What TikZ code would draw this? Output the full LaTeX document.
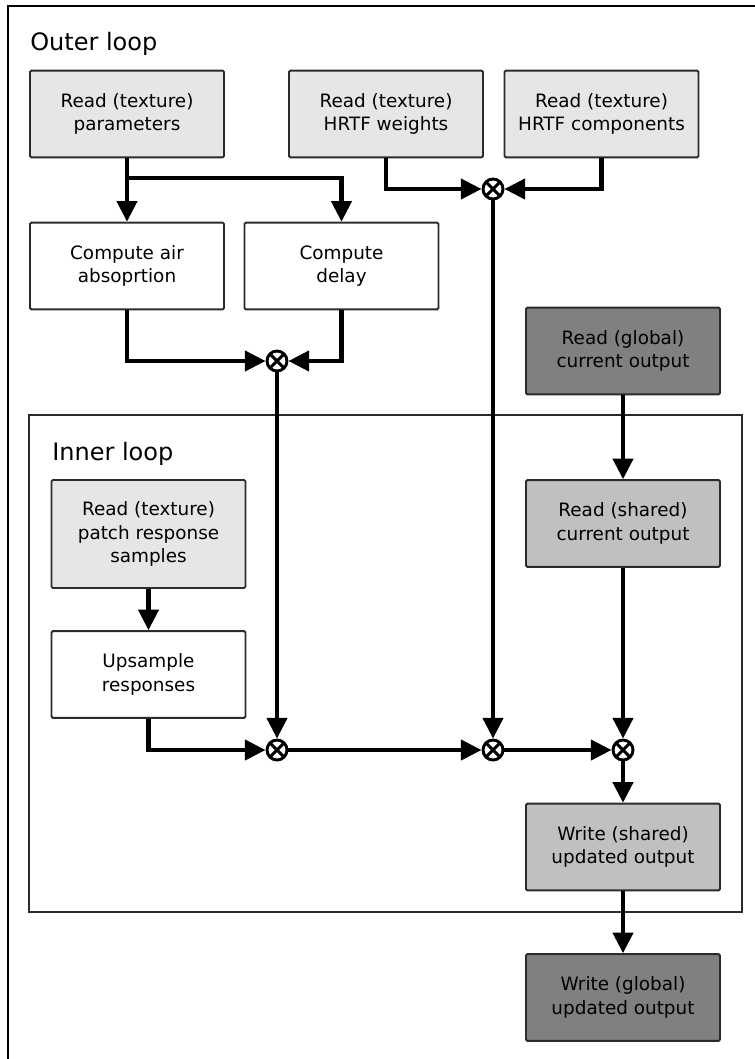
\documentclass[tikz,border=0pt]{standalone}
\usepackage{xcolor}
\usepackage{fontspec}
\setmainfont{DejaVu Sans}
\usepackage{tikz}
\usetikzlibrary{arrows.meta}

\definecolor{texgray}{HTML}{E6E6E6}
\definecolor{shrgray}{HTML}{C0C0C0}
\definecolor{glbgray}{HTML}{808080}
\definecolor{boxline}{HTML}{2B2B2B}

\begin{document}
\begin{tikzpicture}[x=0.75pt,y=-0.75pt,
  box/.style={draw=boxline,line width=1.4pt,rounded corners=1pt,minimum width=145.5pt,minimum height=65pt,align=center,inner sep=2pt,font=\fontsize{13.8}{17.5}\selectfont},
  texbox/.style={box,fill=texgray},
  shrbox/.style={box,fill=shrgray},
  glbbox/.style={box,fill=glbgray},
  mult/.style={circle,draw,line width=2.2pt,minimum size=15pt,inner sep=0pt,
    path picture={\draw[line width=2.2pt] (path picture bounding box.north west) -- (path picture bounding box.south east)
      (path picture bounding box.north east) -- (path picture bounding box.south west);}},
  flow/.style={line width=3.2pt,-{Triangle[length=15.5pt,width=15pt]}},
  looptitle/.style={anchor=base west,inner sep=0pt,font=\fontsize{18}{21}\selectfont}
]
\useasboundingbox (0,0) rectangle (754,1059);

%Outer loop
\draw[line width=1.7pt] (8,1075) -- (8,6) -- (770,6);
\node[looptitle] (outer) at (30,51) {Outer loop};

\node[texbox] (params) at (127,114) {Read (texture)\\parameters};
\node[texbox] (weights) at (386,114) {Read (texture)\\HRTF weights};
\node[texbox] (comps) at (601.5,114) {Read (texture)\\HRTF components};
\node[box] (air) at (127,266) {Compute air\\absoprtion};
\node[box] (delay) at (341.5,266) {Compute\\delay};
\node[glbbox] (gread) at (623,351) {Read (global)\\current output};

\node[mult] (hrtf) at (493,189) {};
\node[mult] (prop) at (277,361) {};

%Inner loop
\draw[line width=1.6pt,draw=boxline] (29,415) rectangle (742,912);
\node[looptitle] (inner) at (52,460) {Inner loop};

\node[texbox,minimum height=81pt] (patch) at (148.5,534) {Read (texture)\\patch response\\samples};
\node[box] (upsmp) at (148.5,674.5) {Upsample\\responses};
\node[shrbox] (sread) at (623,523.5) {Read (shared)\\current output};
\node[shrbox] (swrite) at (623,847) {Write (shared)\\updated output};
\node[glbbox] (gwrite) at (623,997.5) {Write (global)\\updated output};

\node[mult] (m1) at (277,750) {};
\node[mult] (m2) at (493,750) {};
\node[mult] (m3) at (623,750) {};

%Arrows
\coordinate (fork) at (127,178);
\draw[flow] (params) -- (air);
\draw[flow] (fork) -| (delay);
\draw[flow] (weights) |- (hrtf);
\draw[flow] (comps) |- (hrtf);
\draw[flow] (air) |- (prop);
\draw[flow] (delay) |- (prop);
\draw[flow] (gread) -- (sread);
\draw[flow] (patch) -- (upsmp);
\draw[flow] (upsmp) |- (m1);
\draw[flow] (prop) -- (m1);
\draw[flow] (hrtf) -- (m2);
\draw[flow] (m1) -- (m2);
\draw[flow] (m2) -- (m3);
\draw[flow] (sread) -- (m3);
\draw[flow] (m3) -- (swrite);
\draw[flow] (swrite) -- (gwrite);

\end{tikzpicture}
\end{document}
